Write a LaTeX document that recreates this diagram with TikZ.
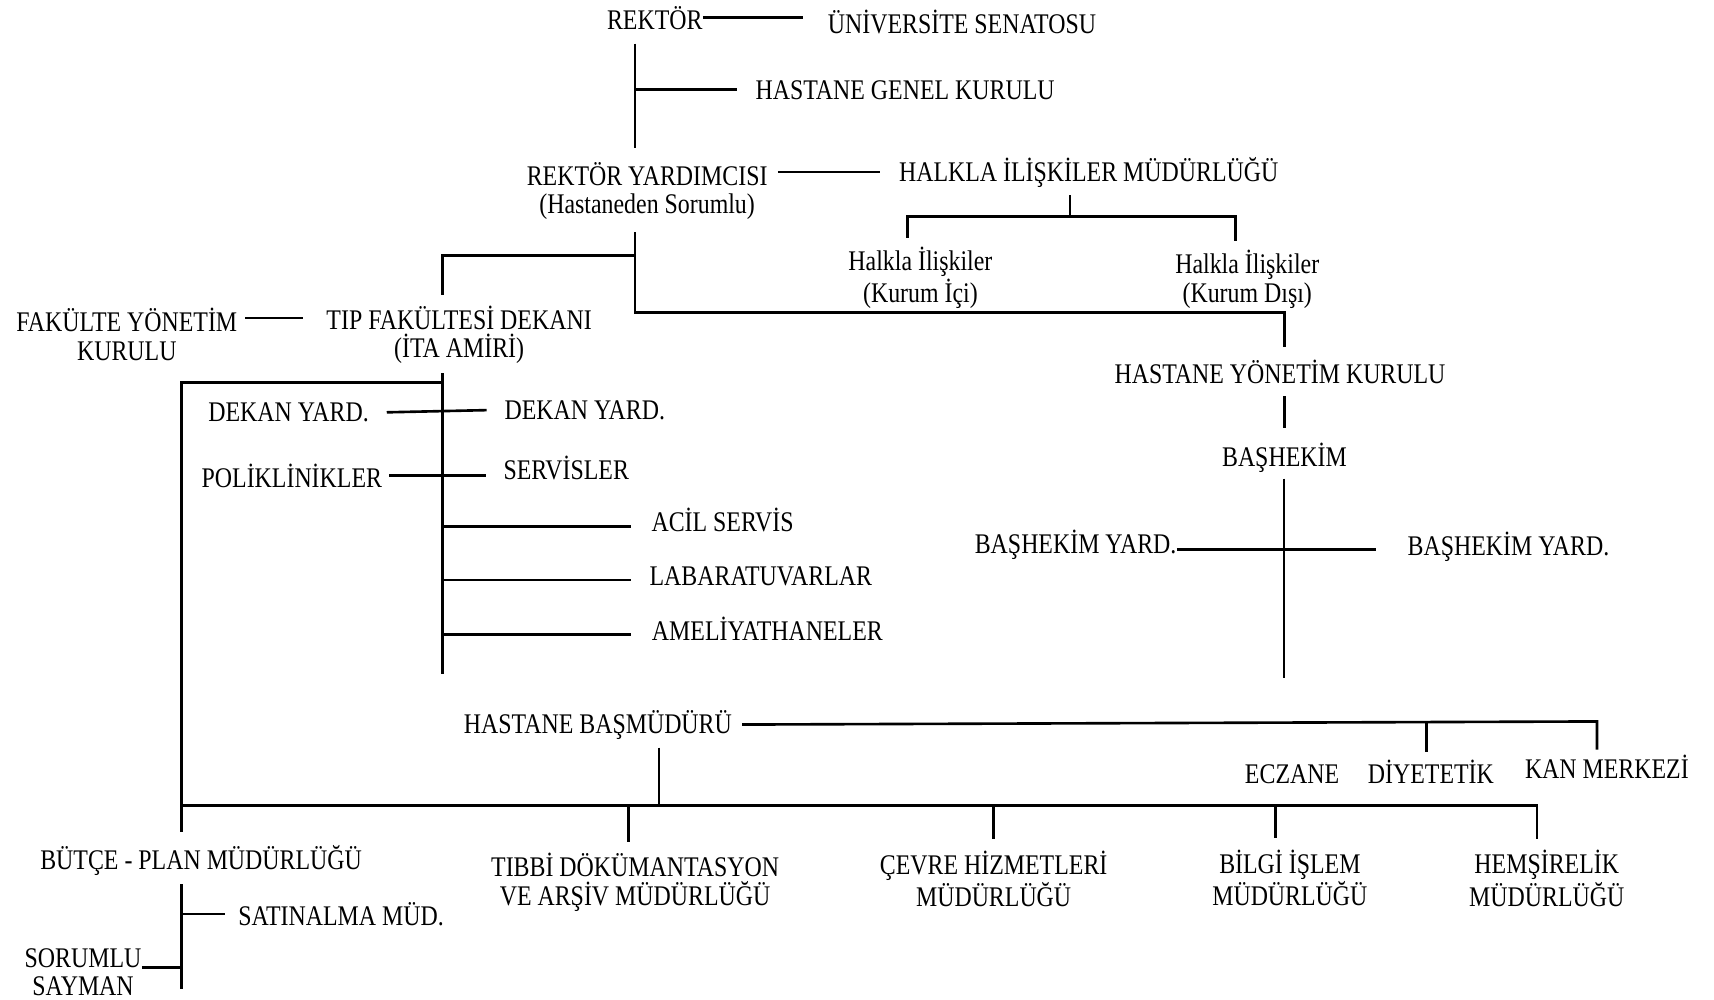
\documentclass[tikz,border=0pt]{standalone}
\usepackage{fontspec}
\setmainfont{Liberation Serif}[FakeStretch=0.84]
\begin{document}
\begin{tikzpicture}[x=0.5pt,y=-0.5pt,
  lbl/.style={inner sep=0pt,anchor=base,font=\fontsize{13pt}{13pt}\selectfont},
  lbl2/.style={inner sep=0pt,anchor=center,align=center,font=\fontsize{13pt}{13pt}\selectfont},
  conn/.style={line width=1.2pt},
  thin conn/.style={line width=0.9pt}]
\useasboundingbox (0,0) rectangle (1568,914);
\fill[white] (0,0) rectangle (1568,914);

% ---- units ----
\node[lbl] (rektor) at (599,26.6) {REKTÖR};
\node[lbl] (senato) at (880,31) {ÜNİVERSİTE SENATOSU};
\node[lbl] (genel) at (828,90.6) {HASTANE GENEL KURULU};
\node[lbl2] (ryard) at (592,175) {REKTÖR YARDIMCISI\\(Hastaneden Sorumlu)};
\node[lbl] (halkla) at (996,165.6) {HALKLA İLİŞKİLER MÜDÜRLÜĞÜ};
\node[lbl2] (hici) at (842,254) {Halkla İlişkiler\\(Kurum İçi)};
\node[lbl2] (hdisi) at (1141,255.5) {Halkla İlişkiler\\(Kurum Dışı)};
\node[lbl2] (fyk) at (116,306) {FAKÜLTE YÖNETİM\\KURULU};
\node[lbl2] (dekan) at (420,306.5) {TIP FAKÜLTESİ DEKANI\\(İTA AMİRİ)};
\node[lbl] (hyk) at (1171,350.6) {HASTANE YÖNETİM KURULU};
\node[lbl] (bashekim) at (1175,426.6) {BAŞHEKİM};
\node[lbl] (byardL) at (984,506.6) {BAŞHEKİM YARD.};
\node[lbl] (byardR) at (1380,508.6) {BAŞHEKİM YARD.};
\node[lbl] (dyL) at (264,385.6) {DEKAN YARD.};
\node[lbl] (dyR) at (535,383.6) {DEKAN YARD.};
\node[lbl] (polik) at (267,445.6) {POLİKLİNİKLER};
\node[lbl] (serv) at (518,438.6) {SERVİSLER};
\node[lbl] (acil) at (661,486.6) {ACİL SERVİS};
\node[lbl] (lab) at (696,535.6) {LABARATUVARLAR};
\node[lbl] (amel) at (702,585.6) {AMELİYATHANELER};
\node[lbl] (basmud) at (547,670.6) {HASTANE BAŞMÜDÜRÜ};
\node[lbl] (eczane) at (1182,716.6) {ECZANE};
\node[lbl] (diyet) at (1309,716.6) {DİYETETİK};
\node[lbl] (kan) at (1470,712.6) {KAN MERKEZİ};
\node[lbl] (butce) at (184,795.6) {BÜTÇE - PLAN MÜDÜRLÜĞÜ};
\node[lbl2] (tibbi) at (581,807) {TIBBİ DÖKÜMANTASYON\\VE ARŞİV MÜDÜRLÜĞÜ};
\node[lbl2] (cevre) at (909,804) {ÇEVRE HİZMETLERİ\\MÜDÜRLÜĞÜ};
\node[lbl2] (bilgi) at (1180,803) {BİLGİ İŞLEM\\MÜDÜRLÜĞÜ};
\node[lbl2] (hemsire) at (1415,803.5) {HEMŞİRELİK\\MÜDÜRLÜĞÜ};
\node[lbl] (satin) at (312,846.6) {SATINALMA MÜD.};
\node[lbl2] (sayman) at (76,889.5) {SORUMLU\\SAYMAN};

% ---- junction points ----
\coordinate (rs) at (581,40);
\coordinate (rv) at (581,135);
\coordinate (hm) at (979,198);
\coordinate (hl) at (830,198);
\coordinate (hr) at (1130,198);
\coordinate (vt) at (581,207);
\coordinate (vd) at (581,234);
\coordinate (vh) at (581,286);
\coordinate (dk) at (405,234);
\coordinate (hy) at (1175,286);
\coordinate (bh) at (1175,620);
\coordinate (de) at (405,617);
\coordinate (dl) at (405,350);
\coordinate (lc) at (166,350);
\coordinate (lb) at (166,737);
\coordinate (rb) at (1406,737);
\coordinate (bm) at (603,737);
\coordinate (kr) at (1461,660);
\coordinate (dy) at (1305,660);
\coordinate (be) at (166,905);
\coordinate (fk) at (0,291);
\coordinate (sy) at (0,885);
\coordinate (ae) at (577,0);

% ---- rector level ----
\draw[conn] (rektor.east) -- ([xshift=-11pt]rektor.east -| senato.west);
\draw[conn] (rs) -- (rv);
\draw[conn] (rs |- genel.west) -- ([xshift=-8.5pt]genel.west);
\draw[conn] ([xshift=4.5pt]ryard.east |- halkla.west) -- ([xshift=-8.5pt]halkla.west);
\draw[conn] ([yshift=-3.5pt]hm |- halkla.south) -- (hm);
\draw[conn] ([yshift=4pt]hl |- hici.north) -- (hl) -- (hr) -- ([yshift=4pt]hr |- hdisi.north);

% ---- vice rector branches ----
\draw[conn] ([yshift=-5.5pt]vt |- ryard.south) -- (vh) -- (hy) -- ([yshift=5.5pt]hy |- hyk.north);
\draw[conn] (vd) -- (dk) -- ([yshift=5pt]dk |- dekan.north);

% ---- chief physician ----
\draw[conn] ([yshift=-5.7pt]hy |- hyk.south) -- ([yshift=6.5pt]hy |- bashekim.north);
\draw[thin conn] ([yshift=-2.7pt]hy |- bashekim.south) -- (bh);
\draw[conn] ([yshift=-2pt]byardL.east) -- ([yshift=-2pt,xshift=-14.5pt]byardL.east -| byardR.west);

% ---- dean ----
\draw[conn] ([xshift=3.5pt]fyk.east |- fk) -- ([xshift=-10.5pt]dekan.west |- fk);
\draw[conn] ([yshift=-4pt]dk |- dekan.south) -- (de);
\draw[conn] ([xshift=8pt]dyL.east) -- ([xshift=-8pt]dyR.west);
\draw[conn] ([xshift=3pt]polik.east) -- ([xshift=-8pt]polik.east -| serv.west);
\draw[conn] ([yshift=2.5pt]dk |- acil.base) -- ([yshift=2.5pt]ae |- acil.base);
\draw[conn] ([yshift=2.5pt]dk |- lab.base) -- ([yshift=2.5pt]ae |- lab.base);
\draw[conn] ([yshift=2.5pt]dk |- amel.base) -- ([yshift=2.5pt]ae |- amel.base);

% ---- administrative side ----
\draw[conn] (dl) -- (lc) -- ([yshift=6pt]lc |- butce.north);
\draw[conn] ([xshift=4.5pt]basmud.east) -- (kr) -- ([yshift=2.5pt]kr |- kan.north);
\draw[conn] (dy) -- ([yshift=3.5pt]dy |- diyet.north);
\draw[conn] ([yshift=-3.7pt]bm |- basmud.south) -- (bm);
\draw[conn] (lb) -- (rb) -- ([yshift=5pt]rb |- hemsire.north);
\draw[conn] ([xshift=-3pt]tibbi.north |- lb) -- ([xshift=-3pt,yshift=5pt]tibbi.north);
\draw[conn] (cevre.north |- lb) -- ([yshift=5pt]cevre.north);
\draw[conn] ([xshift=-6.5pt]bilgi.north |- lb) -- ([xshift=-6.5pt,yshift=5pt]bilgi.north);

% ---- budget ----
\draw[conn] ([yshift=-3.7pt]lc |- butce.south) -- (be);
\draw[conn] (lc |- satin.west) -- ([xshift=-6pt]satin.west);
\draw[conn] (sayman.east |- sy) -- (lc |- sy);
\end{tikzpicture}
\end{document}
